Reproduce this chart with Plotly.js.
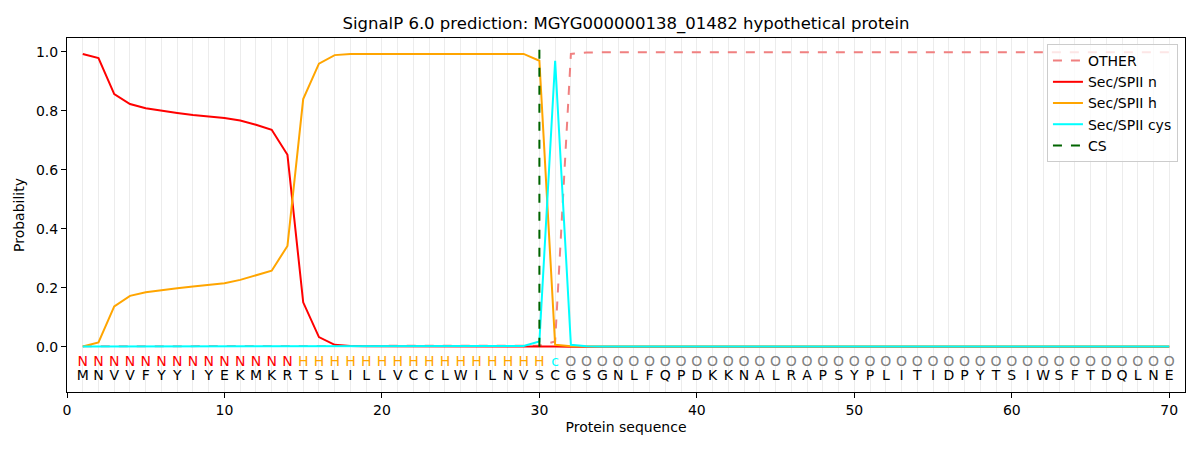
<!DOCTYPE html>
<html>
<head>
<meta charset="utf-8">
<script src="https://cdn.plot.ly/plotly-3.0.1.min.js"></script>
<style>html,body{margin:0;padding:0;background:#fff;}#chart{width:1200px;height:450px;}</style>
</head>
<body>
<div id="chart"></div>
<script>
// ---- data ----
const sequence = "MNVVFYYIYEKMKRTSLILLVCCLWILNVSCGSGNLFQPDKKNALRAPSYPLITIDPYTSIWSFTDQLNE".split("");
const regionLabels = "NNNNNNNNNNNNNNHHHHHHHHHHHHHHHHcOOOOOOOOOOOOOOOOOOOOOOOOOOOOOOOOOOOOOOO".split("");
const positions = sequence.map((_, i) => i + 1);

const otherProb = [0.002,0.002,0.002,0.002,0.002,0.002,0.002,0.002,0.002,0.002,
                   0.002,0.002,0.002,0.002,0.002,0.002,0.002,0.002,0.002,0.002,
                   0.002,0.002,0.002,0.002,0.002,0.002,0.002,0.002,0.002,0.004,
                   0.018,0.993,0.998,0.999,0.999,0.999,0.999,0.999,0.999,0.999,
                   0.999,0.999,0.999,0.999,0.999,0.999,0.999,0.999,0.999,0.999,
                   0.999,0.999,0.999,0.999,0.999,0.999,0.999,0.999,0.999,0.999,
                   0.999,0.999,0.999,0.999,0.999,0.999,0.999,0.999,0.999,0.999];
const nProb = [0.993,0.979,0.857,0.823,0.809,0.800,0.793,0.786,0.781,0.776,
               0.767,0.753,0.736,0.651,0.151,0.033,0.007,0.003,0.002,0.002,
               0.002,0.002,0.002,0.002,0.002,0.002,0.002,0.002,0.002,0.003,
               0.001,0.000,0.000,0.000,0.000,0.000,0.000,0.000,0.000,0.000,
               0.000,0.000,0.000,0.000,0.000,0.000,0.000,0.000,0.000,0.000,
               0.000,0.000,0.000,0.000,0.000,0.000,0.000,0.000,0.000,0.000,
               0.000,0.000,0.000,0.000,0.000,0.000,0.000,0.000,0.000,0.000];
const hProb = [0.001,0.015,0.137,0.173,0.185,0.193,0.199,0.205,0.210,0.216,
               0.227,0.242,0.258,0.342,0.840,0.960,0.989,0.993,0.993,0.993,
               0.993,0.993,0.993,0.993,0.993,0.993,0.993,0.993,0.993,0.970,
               0.007,0.002,0.001,0.001,0.001,0.001,0.001,0.001,0.001,0.001,
               0.001,0.001,0.001,0.001,0.001,0.001,0.001,0.001,0.001,0.001,
               0.001,0.001,0.001,0.001,0.001,0.001,0.001,0.001,0.001,0.001,
               0.001,0.001,0.001,0.001,0.001,0.001,0.001,0.001,0.001,0.001];
const cysProb = [0.001,0.001,0.001,0.001,0.001,0.001,0.001,0.001,0.001,0.001,
                 0.001,0.001,0.001,0.001,0.001,0.001,0.001,0.001,0.001,0.001,
                 0.001,0.001,0.001,0.001,0.001,0.001,0.001,0.001,0.003,0.018,
                 0.970,0.007,0.002,0.001,0.001,0.001,0.001,0.001,0.001,0.001,
                 0.001,0.001,0.001,0.001,0.001,0.001,0.001,0.001,0.001,0.001,
                 0.001,0.001,0.001,0.001,0.001,0.001,0.001,0.001,0.001,0.001,
                 0.001,0.001,0.001,0.001,0.001,0.001,0.001,0.001,0.001,0.001];
const csPosition = [30, 30];
const csSpan = [0, 1.035];
const xTicks = [0, 10, 20, 30, 40, 50, 60, 70];
const yTicks = [0.0, 0.2, 0.4, 0.6, 0.8, 1.0];

// ---- styles ----
const labelColors = {N: "#ff0000", H: "#ffa500", c: "#00ffff", O: "#808080"};
const FONT = "DejaVu Sans, sans-serif";

const traces = [
  {x: positions, y: otherProb, mode: "lines", name: "OTHER",
   line: {color: "#f08080", width: 2, dash: "dash"}},
  {x: positions, y: nProb, mode: "lines", name: "Sec/SPII n",
   line: {color: "#ff0000", width: 2}},
  {x: positions, y: hProb, mode: "lines", name: "Sec/SPII h",
   line: {color: "#ffa500", width: 2}},
  {x: positions, y: cysProb, mode: "lines", name: "Sec/SPII cys",
   line: {color: "#00ffff", width: 2}},
  {x: csPosition, y: csSpan, mode: "lines", name: "CS",
   line: {color: "#006400", width: 2, dash: "dash"}},
  {x: positions, y: positions.map(() => -0.052), mode: "text", text: regionLabels,
   textfont: {family: FONT, size: 14, color: regionLabels.map(c => labelColors[c])},
   showlegend: false, hoverinfo: "skip"},
  {x: positions, y: positions.map(() => -0.102), mode: "text", text: sequence,
   textfont: {family: FONT, size: 14, color: "#000000"},
   showlegend: false, hoverinfo: "skip"}
];

const layout = {
  width: 1200, height: 450,
  margin: {l: 67, r: 15, t: 38, b: 58},
  paper_bgcolor: "#ffffff", plot_bgcolor: "#ffffff",
  font: {family: FONT, size: 14, color: "#000"},
  title: {text: "SignalP 6.0 prediction: MGYG000000138_01482 hypothetical protein",
          font: {family: FONT, size: 16.5, color: "#000"}, x: 0.5217, xanchor: "center", y: 0.948, yanchor: "middle"},
  xaxis: {
    range: [0, 71], tickvals: xTicks, ticktext: xTicks.map(String),
    ticks: "outside", ticklen: 5, tickwidth: 1, tickcolor: "#000",
    showline: true, linecolor: "#000", linewidth: 1, mirror: true,
    showgrid: true, gridcolor: "#ececec", gridwidth: 1,
    minor: {dtick: 1, tick0: 0, showgrid: true, gridcolor: "#ececec", gridwidth: 1, ticks: ""},
    zeroline: false,
    title: {text: "Protein sequence", font: {family: FONT, size: 14}, standoff: 5},
    tickfont: {family: FONT, size: 14}
  },
  yaxis: {
    range: [-0.153, 1.047], tickvals: yTicks, ticktext: yTicks.map(v => v.toFixed(1)),
    ticks: "outside", ticklen: 5, tickwidth: 1, tickcolor: "#000",
    showline: true, linecolor: "#000", linewidth: 1, mirror: true,
    showgrid: false, zeroline: false,
    title: {text: "Probability", font: {family: FONT, size: 14}, standoff: 8},
    tickfont: {family: FONT, size: 14}
  },
  legend: {x: 0.9937, y: 0.983, xanchor: "right", yanchor: "top",
           bgcolor: "rgba(255,255,255,0.8)", bordercolor: "#cccccc", borderwidth: 1,
           font: {family: FONT, size: 14}, tracegroupgap: 0},
  showlegend: true
};

Plotly.newPlot("chart", traces, layout, {staticPlot: true, displayModeBar: false});
</script>
</body>
</html>
